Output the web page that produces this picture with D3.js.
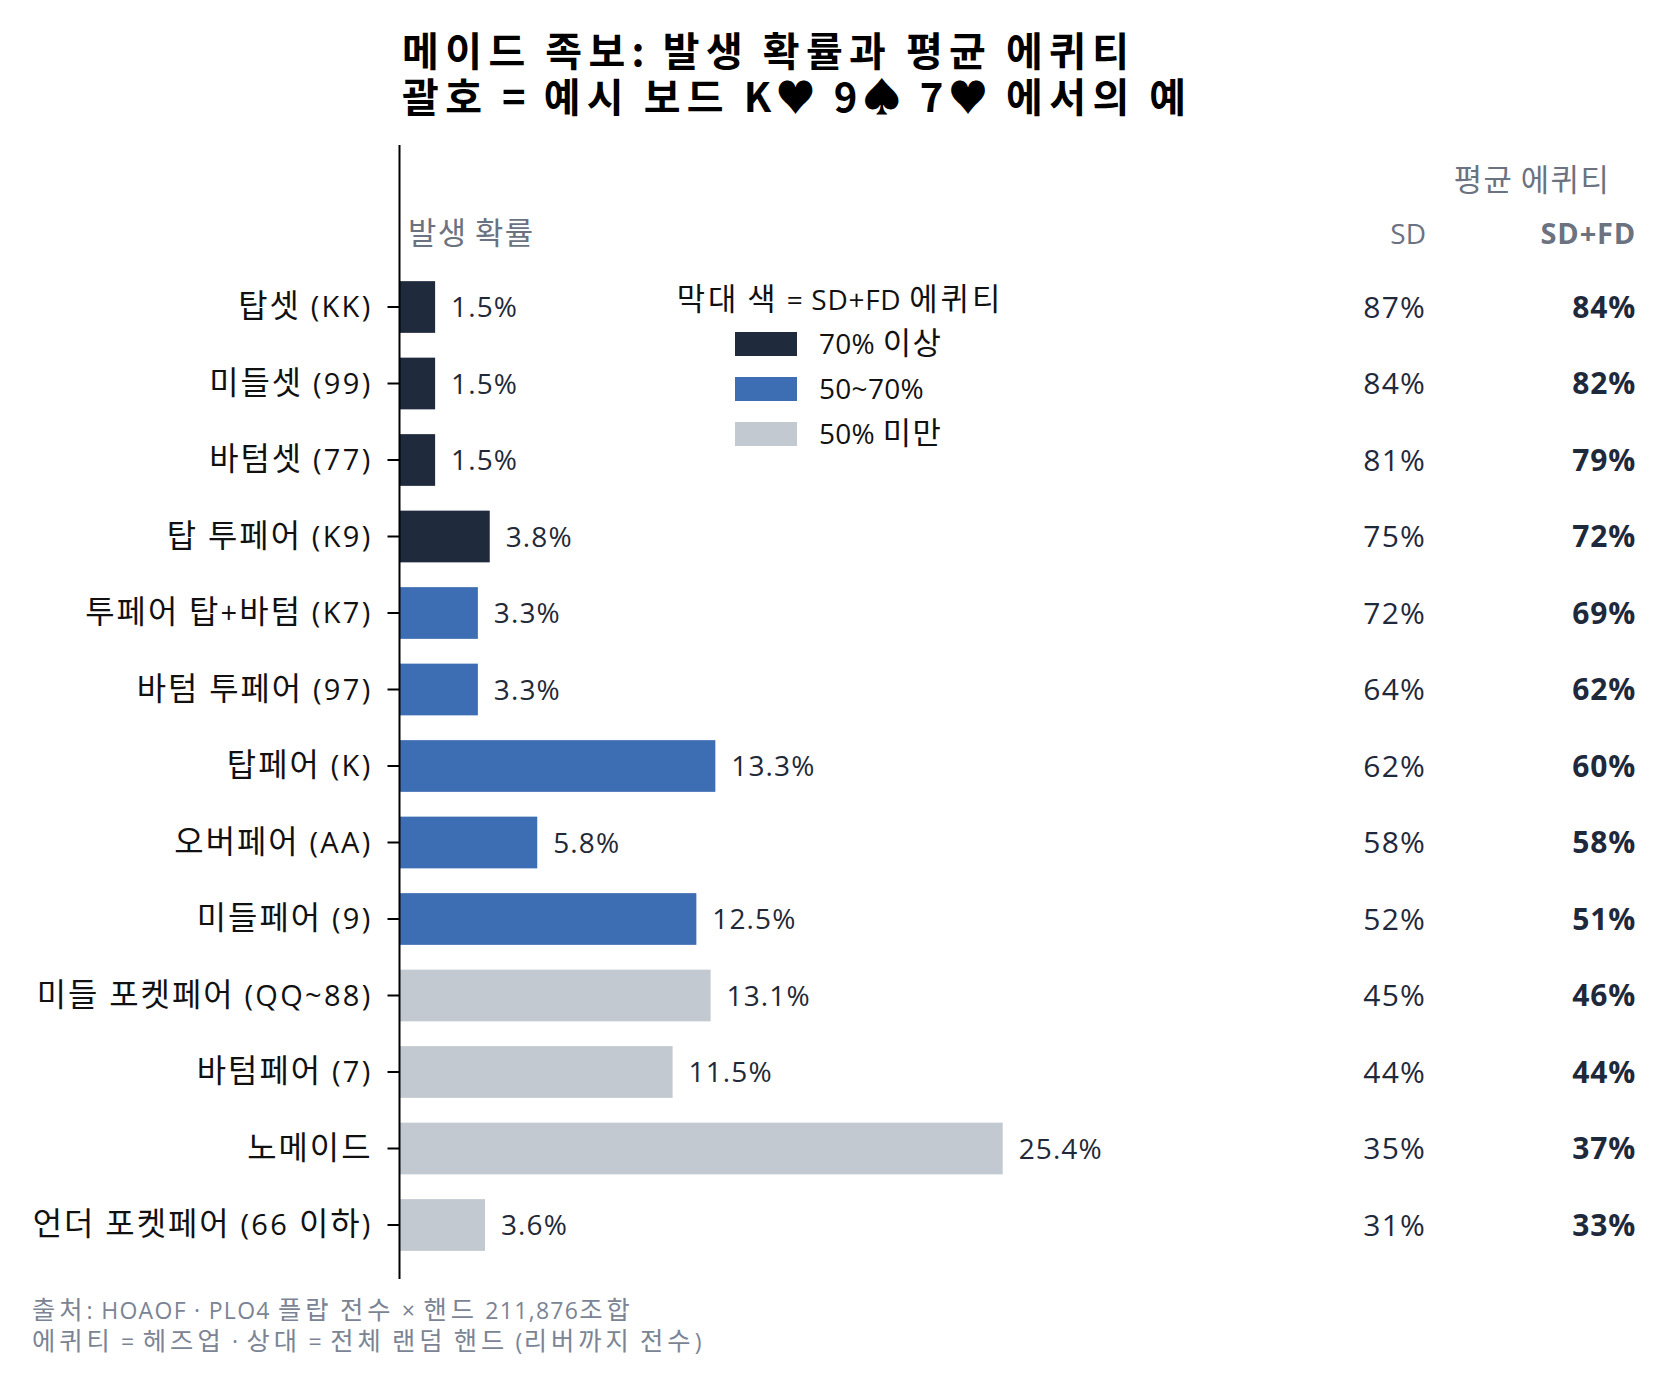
<!DOCTYPE html>
<html>
<head>
<meta charset="utf-8">
<script src="https://cdn.jsdelivr.net/npm/d3@7/dist/d3.min.js"></script>
<style>
  html, body { margin: 0; padding: 0; background: #ffffff; }
  svg { display: block; font-family: "Open Sans", "Noto Sans CJK KR", sans-serif; }
</style>
</head>
<body>
<svg id="chart" width="1667" height="1386"></svg>
<script>
// ---- data ----
const categories = ["탑셋 (KK)", "미들셋 (99)", "바텀셋 (77)", "탑 투페어 (K9)", "투페어 탑+바텀 (K7)",
  "바텀 투페어 (97)", "탑페어 (K)", "오버페어 (AA)", "미들페어 (9)", "미들 포켓페어 (QQ~88)",
  "바텀페어 (7)", "노메이드", "언더 포켓페어 (66 이하)"];
const frequency = [1.5, 1.5, 1.5, 3.8, 3.3, 3.3, 13.3, 5.8, 12.5, 13.1, 11.5, 25.4, 3.6];
const equitySD = [87, 84, 81, 75, 72, 64, 62, 58, 52, 45, 44, 35, 31];
const equitySDFD = [84, 82, 79, 72, 69, 62, 60, 58, 51, 46, 44, 37, 33];
const legendLabels = ["70% 이상", "50~70%", "50% 미만"];
const legendColors = ["#1f2a3c", "#3d6eb4", "#c3c9d1"];
const titleLines = ["메이드 족보: 발생 확률과 평균 에퀴티", "괄호 = 예시 보드 K♥ 9♠ 7♥ 에서의 예"];
const footnotes = ["출처: HOAOF · PLO4 플랍 전수 × 핸드 211,876조합",
  "에퀴티 = 헤즈업 · 상대 = 전체 랜덤 핸드 (리버까지 전수)"];

const rows = categories.map((c, i) => ({ cat: c, freq: frequency[i], sd: equitySD[i], sdfd: equitySDFD[i] }));
const colorFor = v => v >= 70 ? legendColors[0] : (v >= 50 ? legendColors[1] : legendColors[2]);

// text helper: Hangul runs drawn with Noto Sans CJK KR (slightly larger), other runs with the base font
const HANGUL = /[\uAC00-\uD7A3]/;
function rich(sel, str, size, hs, os, hscale) {
  sel.text(null).attr("font-size", size);
  const parts = str.match(/[\uAC00-\uD7A3]+|[^\uAC00-\uD7A3]+/g) || [];
  parts.forEach(p => {
    const t = sel.append("tspan").text(p);
    if (HANGUL.test(p)) {
      t.attr("font-family", "'Noto Sans CJK KR', sans-serif")
        .attr("font-size", size * hscale).attr("letter-spacing", hs);
    } else {
      t.attr("letter-spacing", os);
    }
  });
}

const svg = d3.select("#chart");
const axisX = 399.5;

const x = d3.scaleLinear().domain([0, 25.4]).range([axisX, 1002.7]);
const y = d3.scaleBand().domain(categories).range([268.75, 1263.25])
  .paddingInner(0.324).paddingOuter(0.162);

// title
svg.append("g").selectAll("text").data(titleLines).join("text")
  .attr("x", 402).attr("y", (d, i) => 66 + i * 46)
  .attr("font-family", "'Noto Sans CJK KR', sans-serif")
  .attr("font-weight", 700).attr("fill", "#000")
  .each(function (d) { rich(d3.select(this), d, 40, 6.4, 4.5, 1); });

// bars
svg.append("g").selectAll("rect").data(rows).join("rect")
  .attr("x", x(0)).attr("y", d => y(d.cat))
  .attr("width", d => x(d.freq) - x(0)).attr("height", y.bandwidth())
  .attr("fill", d => colorFor(d.sdfd));

// value labels
svg.append("g").selectAll("text").data(rows).join("text")
  .attr("x", d => x(d.freq) + 16).attr("y", d => y(d.cat) + y.bandwidth() / 2)
  .attr("dy", "0.36em").attr("font-size", 28).attr("fill", "#1f2937").attr("letter-spacing", 1.1)
  .text(d => d3.format(".1f")(d.freq) + "%");

// y axis
const yAxis = d3.axisLeft(y).tickSize(12).tickPadding(15);
const gy = svg.append("g").attr("transform", `translate(${axisX},0)`).call(yAxis);
gy.attr("font-family", null).attr("font-size", null);
gy.select(".domain").remove();
gy.selectAll(".tick line").attr("stroke", "#000").attr("stroke-width", 2);
gy.selectAll(".tick text").attr("fill", "#111").attr("dy", "0.36em")
  .each(function (d) { rich(d3.select(this), d, 29, 2, 2.3, 1.1); });
svg.append("line").attr("x1", axisX).attr("x2", axisX).attr("y1", 145).attr("y2", 1279)
  .attr("stroke", "#000").attr("stroke-width", 2);

// column headers
rich(svg.append("text").attr("x", 408).attr("y", 244).attr("fill", "#6b7280"), "발생 확률", 28, 1.5, 0, 1.1);
rich(svg.append("text").attr("x", 1532).attr("y", 191).attr("text-anchor", "middle").attr("fill", "#6b7280"), "평균 에퀴티", 28, 1.5, 0, 1.1);
svg.append("text").attr("x", 1426).attr("y", 244).attr("text-anchor", "end").attr("font-size", 28).attr("fill", "#6b7280").text("SD");
svg.append("text").attr("x", 1636).attr("y", 244).attr("text-anchor", "end").attr("font-size", 29).attr("font-weight", 700).attr("fill", "#6b7280").attr("letter-spacing", 0.8).text("SD+FD");

// equity columns
svg.append("g").selectAll("text").data(rows).join("text")
  .attr("x", 1426).attr("y", d => y(d.cat) + y.bandwidth() / 2).attr("dy", "0.36em")
  .attr("text-anchor", "end").attr("font-size", 30).attr("fill", "#1e293b").attr("letter-spacing", 1.2)
  .text(d => d.sd + "%");
svg.append("g").selectAll("text").data(rows).join("text")
  .attr("x", 1636).attr("y", d => y(d.cat) + y.bandwidth() / 2).attr("dy", "0.36em")
  .attr("text-anchor", "end").attr("font-size", 30).attr("font-weight", 700).attr("fill", "#1e293b").attr("letter-spacing", 0.8)
  .text(d => d.sdfd + "%");

// legend
const lg = svg.append("g");
rich(lg.append("text").attr("x", 840).attr("y", 310).attr("text-anchor", "middle").attr("fill", "#111"),
  "막대 색 = SD+FD 에퀴티", 28, 3, 0.7, 1.1);
const li = lg.selectAll("g.item").data(legendLabels).join("g").attr("class", "item")
  .attr("transform", (d, i) => `translate(735, ${332 + i * 45})`);
li.append("rect").attr("width", 62).attr("height", 24).attr("fill", (d, i) => legendColors[i]);
li.append("text").attr("x", 84).attr("y", 12).attr("dy", "0.36em").attr("fill", "#111")
  .each(function (d) { rich(d3.select(this), d, 28, 1.6, 0.3, 1.1); });

// footnotes
svg.append("g").selectAll("text").data(footnotes).join("text")
  .attr("x", 32).attr("y", (d, i) => 1319 + i * 31)
  .attr("fill", "#7b8494")
  .each(function (d) { rich(d3.select(this), d, 23, 4, 1.3, 1.1); });
</script>
</body>
</html>
